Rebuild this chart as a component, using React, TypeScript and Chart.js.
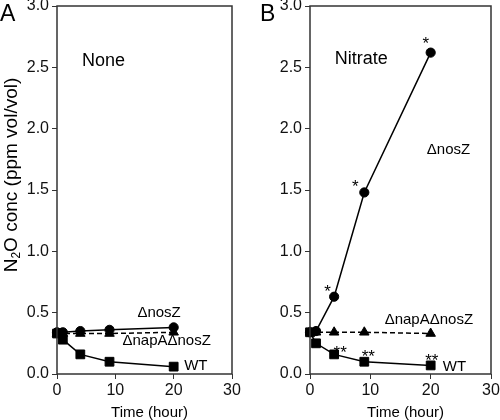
import React, { useEffect, useRef } from "react";
import { Chart, registerables } from "chart.js";

Chart.register(...registerables);

// ---- data ----
const times = [0, 1, 4, 9, 20];
const noneNosZ = [0.34, 0.34, 0.35, 0.36, 0.38];
const noneNapNosZ = [0.33, 0.33, 0.33, 0.33, 0.34];
const noneWT = [0.33, 0.28, 0.16, 0.1, 0.06];
const nitNosZ = [0.34, 0.35, 0.63, 1.48, 2.62];
const nitNapNosZ = [0.34, 0.34, 0.34, 0.34, 0.33];
const nitWT = [0.34, 0.25, 0.16, 0.1, 0.07];
const xTicks = [0, 10, 20, 30];
const yTicks = [0, 0.5, 1, 1.5, 2, 2.5, 3];

type Note = { text: string; x: number; y: number; size: number; align: CanvasTextAlign };

const notesA: Note[] = [
  { text: "None", x: 4.3, y: 2.55, size: 18, align: "left" },
  { text: "ΔnosZ", x: 17.5, y: 0.5, size: 15, align: "center" },
  { text: "ΔnapAΔnosZ", x: 18.8, y: 0.27, size: 15, align: "center" },
  { text: "WT", x: 21.8, y: 0.065, size: 15, align: "left" },
];

const notesB: Note[] = [
  { text: "Nitrate", x: 4.1, y: 2.57, size: 18, align: "left" },
  { text: "ΔnosZ", x: 22.96, y: 1.83, size: 15, align: "center" },
  { text: "ΔnapAΔnosZ", x: 19.7, y: 0.44, size: 15, align: "center" },
  { text: "WT", x: 22.0, y: 0.057, size: 15, align: "left" },
  { text: "*", x: 2.93, y: 0.67, size: 17, align: "center" },
  { text: "*", x: 7.5, y: 1.52, size: 17, align: "center" },
  { text: "*", x: 19.2, y: 2.69, size: 17, align: "center" },
  { text: "**", x: 5.0, y: 0.17, size: 17, align: "center" },
  { text: "**", x: 9.67, y: 0.14, size: 17, align: "center" },
  { text: "**", x: 20.2, y: 0.1, size: 17, align: "center" },
];

const FONT = '"Liberation Sans", Arial, Helvetica, sans-serif';
const OFFSET = 12; // canvas top offset above page

function pts(vals: number[]) {
  return times.map((t, i) => ({ x: t, y: vals[i] }));
}

function ds(label: string, vals: number[], style: string, radius: number, dash: number[]) {
  return {
    label,
    data: pts(vals),
    borderColor: "#000",
    backgroundColor: "#000",
    pointBackgroundColor: "#000",
    pointBorderColor: "#000",
    pointBorderWidth: 1,
    borderWidth: 1.5,
    borderDash: dash,
    pointStyle: style,
    pointRadius: radius,
    fill: false,
    tension: 0,
    clip: false,
  };
}

function makeChart(
  canvas: HTMLCanvasElement,
  series: number[][],
  notes: Note[],
  letter: string,
  letterX: number,
  yTitle: boolean,
  yWidth: number,
  rightPad: number
) {
  const deco = {
    id: "deco",
    afterDatasetsDraw(chart: any) {
      const ctx = chart.ctx as CanvasRenderingContext2D;
      const a = chart.chartArea;
      const xs = chart.scales.x;
      const ys = chart.scales.y;
      ctx.save();
      // frame
      ctx.strokeStyle = "#333";
      ctx.lineWidth = 1.5;
      ctx.strokeRect(a.left, a.top, a.right - a.left, a.bottom - a.top);
      // notes
      ctx.fillStyle = "#000";
      ctx.textBaseline = "middle";
      for (const n of notes) {
        ctx.font = `${n.size}px ${FONT}`;
        ctx.textAlign = n.align;
        ctx.fillText(n.text, xs.getPixelForValue(n.x), ys.getPixelForValue(n.y));
      }
      // x title
      ctx.font = `15px ${FONT}`;
      ctx.textAlign = "center";
      ctx.textBaseline = "alphabetic";
      ctx.fillText("Time (hour)", (a.left + a.right) / 2 + 5, 417 + OFFSET);
      // panel letter
      ctx.font = `23px ${FONT}`;
      ctx.textAlign = "left";
      ctx.fillText(letter, letterX, 21 + OFFSET);
      // y title
      if (yTitle) {
        const big = `19px ${FONT}`;
        const small = `12px ${FONT}`;
        const parts: [string, string, number][] = [
          ["N", big, 0],
          ["2", small, 5],
          ["O conc (ppm vol/vol)", big, 0],
        ];
        let total = 0;
        for (const p of parts) {
          ctx.font = p[1];
          total += ctx.measureText(p[0]).width;
        }
        ctx.translate(12, 175 + OFFSET);
        ctx.rotate(-Math.PI / 2);
        ctx.textBaseline = "middle";
        let x = -total / 2;
        for (const p of parts) {
          ctx.font = p[1];
          ctx.fillText(p[0], x, p[2]);
          x += ctx.measureText(p[0]).width;
        }
      }
      ctx.restore();
    },
  };

  return new Chart(canvas, {
    type: "line",
    data: {
      datasets: [
        ds("ΔnosZ", series[0], "circle", 4.6, []),
        ds("ΔnapAΔnosZ", series[1], "triangle", 5.5, [5, 3]),
        ds("WT", series[2], "rect", 6.2, []),
      ],
    },
    options: {
      animation: false,
      responsive: false,
      maintainAspectRatio: false,
      layout: { padding: { top: 6 + OFFSET, right: rightPad, left: 0, bottom: 0 } },
      plugins: { legend: { display: false }, tooltip: { enabled: false } },
      scales: {
        x: {
          type: "linear",
          min: 0,
          max: 30,
          afterBuildTicks: (s: any) => {
            s.ticks = xTicks.map((v) => ({ value: v }));
          },
          afterFit: (s: any) => {
            s.height = 46;
          },
          grid: { drawOnChartArea: false, drawTicks: true, tickLength: 5, color: "#333", lineWidth: 1 },
          border: { display: false },
          ticks: {
            color: "#111",
            font: { family: FONT, size: 16 },
            padding: 2,
            maxRotation: 0,
            callback: (v: any) => String(v),
          },
        },
        y: {
          type: "linear",
          min: 0,
          max: 3,
          afterBuildTicks: (s: any) => {
            s.ticks = yTicks.map((v) => ({ value: v }));
          },
          afterFit: (s: any) => {
            s.width = yWidth;
          },
          grid: { drawOnChartArea: false, drawTicks: true, tickLength: 5, color: "#333", lineWidth: 1 },
          border: { display: false },
          ticks: {
            color: "#111",
            font: { family: FONT, size: 16 },
            padding: 3,
            callback: (v: any) => Number(v).toFixed(1),
          },
        },
      },
    } as any,
    plugins: [deco as any],
  });
}

export default function App() {
  const refA = useRef<HTMLCanvasElement>(null);
  const refB = useRef<HTMLCanvasElement>(null);

  useEffect(() => {
    const a = makeChart(refA.current!, [noneNosZ, noneNapNosZ, noneWT], notesA, "A", 0, true, 57, 18);
    const b = makeChart(refB.current!, [nitNosZ, nitNapNosZ, nitWT], notesB, "B", 10, false, 60, 21);
    return () => {
      a.destroy();
      b.destroy();
    };
  }, []);

  return (
    <div
      style={{
        position: "absolute",
        left: 0,
        top: 0,
        width: 500,
        height: 420,
        overflow: "hidden",
        background: "#fff",
      }}
    >
      <canvas
        ref={refA}
        width={250}
        height={420 + OFFSET}
        style={{ position: "absolute", left: 0, top: -OFFSET, width: 250, height: 420 + OFFSET }}
      />
      <canvas
        ref={refB}
        width={262}
        height={420 + OFFSET}
        style={{ position: "absolute", left: 250, top: -OFFSET, width: 262, height: 420 + OFFSET }}
      />
    </div>
  );
}
